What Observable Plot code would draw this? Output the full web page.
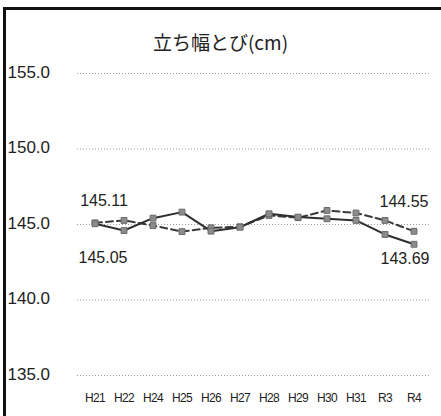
<!DOCTYPE html>
<html><head><meta charset="utf-8">
<script src="https://cdn.jsdelivr.net/npm/d3@7"></script>
<script src="https://cdn.jsdelivr.net/npm/@observablehq/plot@0.6"></script>
<style>
html,body{margin:0;padding:0;background:#fff;}
#wrap{position:relative;width:441px;height:416px;overflow:hidden;background:#fff;}
#frame{position:absolute;left:3px;top:7px;width:460px;height:440px;border-left:3px solid #111;border-top:3px solid #111;box-sizing:border-box;}
#title{position:absolute;left:0;top:29px;width:441px;text-align:center;font-family:"Noto Sans CJK JP",sans-serif;font-size:19px;color:#222;line-height:26px;}
#chart{position:absolute;left:0;top:0;}
[aria-label="x-axis tick label"] text{letter-spacing:-0.6px;}
</style>
</head><body>
<div id="wrap"><div id="frame"></div><div id="title">立ち幅とび(cm)</div><div id="chart"></div></div>
<script>
const years = ["H21","H22","H24","H25","H26","H27","H28","H29","H30","H31","R3","R4"];
const solidValues = [145.05, 144.60, 145.42, 145.82, 144.56, 144.82, 145.71, 145.49, 145.38, 145.27, 144.34, 143.69];
const dashedValues = [145.11, 145.27, 144.93, 144.53, 144.78, 144.85, 145.60, 145.45, 145.93, 145.76, 145.27, 144.55];
const yTicks = [135, 140, 145, 150, 155];

const solid = years.map((y, i) => ({year: y, value: solidValues[i], i}));
const dashed = years.map((y, i) => ({year: y, value: dashedValues[i], i}));
const last = years.length - 1;

const chart = Plot.plot({
  width: 441, height: 416,
  marginLeft: 77, marginRight: 11, marginTop: 73, marginBottom: 41,
  style: {background: "transparent", color: "#222", fontFamily: "'Liberation Sans', Arial, sans-serif"},
  x: {type: "band", domain: years, padding: 0},
  y: {domain: [135, 155]},
  marks: [
    Plot.gridY(yTicks, {stroke: "#999", strokeOpacity: 1, strokeDasharray: "1,2", strokeWidth: 1}),
    Plot.axisY(yTicks, {tickSize: 0, textAnchor: "start", tickPadding: 70, fontSize: 17, tickFormat: d => d.toFixed(1), label: null, dy: -1}),
    Plot.axisX({tickSize: 0, tickPadding: 18, fontSize: 12, label: null}),
    Plot.line(dashed, {x: "year", y: "value", stroke: "#3a3a3a", strokeWidth: 2, strokeDasharray: "7,4"}),
    Plot.line(solid, {x: "year", y: "value", stroke: "#2e2e2e", strokeWidth: 2}),
    Plot.dot(dashed, {x: "year", y: "value", symbol: "square", r: 3.3, fill: "#8c8c8c", stroke: "#6a6a6a", strokeWidth: 1}),
    Plot.dot(solid, {x: "year", y: "value", symbol: "square", r: 3.3, fill: "#8c8c8c", stroke: "#6a6a6a", strokeWidth: 1}),
    Plot.text(dashed.filter(d => d.i === 0), {x: "year", y: "value", text: d => d.value.toFixed(2), dx: 9, dy: -22, fontSize: 16, fill: "#222"}),
    Plot.text(solid.filter(d => d.i === 0), {x: "year", y: "value", text: d => d.value.toFixed(2), dx: 8, dy: 34, fontSize: 16, fill: "#222"}),
    Plot.text(dashed.filter(d => d.i === last), {x: "year", y: "value", text: d => d.value.toFixed(2), dx: -10, dy: -29, fontSize: 16, fill: "#222"}),
    Plot.text(solid.filter(d => d.i === last), {x: "year", y: "value", text: d => d.value.toFixed(2), dx: -9, dy: 15, fontSize: 16, fill: "#222"})
  ]
});
document.getElementById("chart").appendChild(chart);
</script>
</body></html>
